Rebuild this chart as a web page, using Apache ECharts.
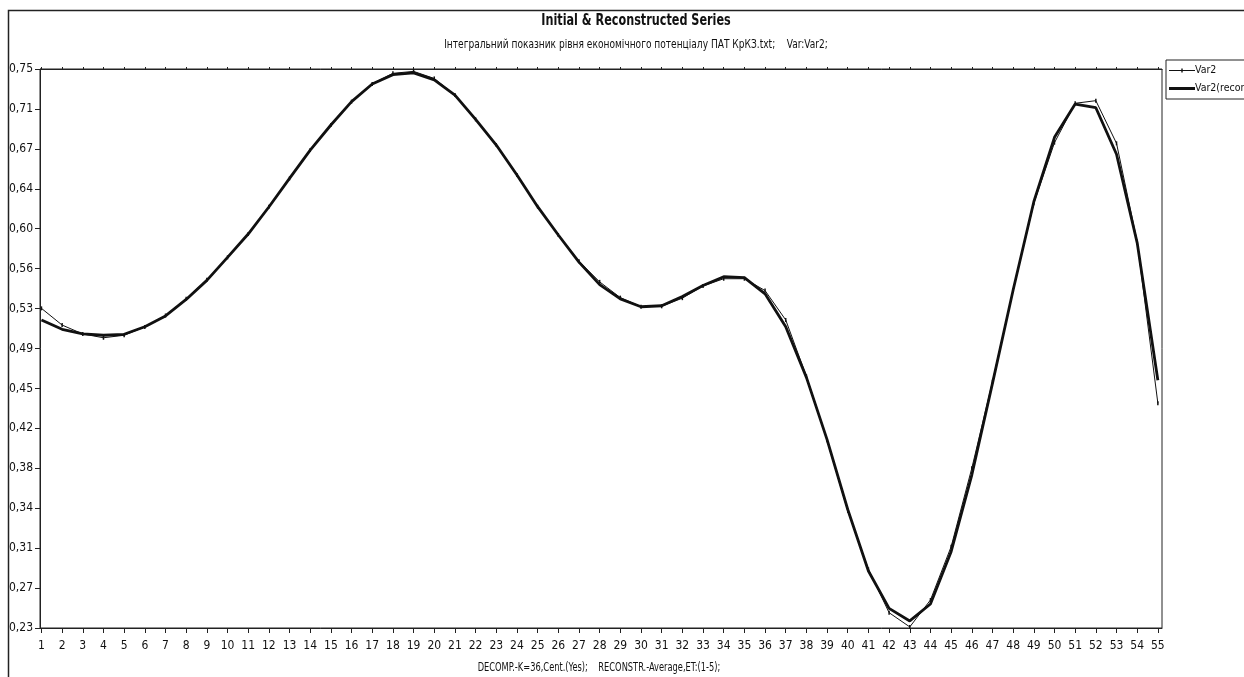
<!DOCTYPE html>
<html>
<head>
<meta charset="utf-8">
<script src="https://cdn.jsdelivr.net/npm/echarts@6/dist/echarts.min.js"></script>
<style>
  html, body { margin: 0; padding: 0; background: #fff; }
  #chart { width: 1244px; height: 677px; }
</style>
</head>
<body>
<div id="chart"></div>
<script>
// Observation index 1..55
const periods = Array.from({ length: 55 }, (_, i) => i + 1);

// Initial series Var2
const var2 = [
  0.5266, 0.5112, 0.5030, 0.4995, 0.5018, 0.5095, 0.5200, 0.5355, 0.5530, 0.5736,
  0.5951, 0.6203, 0.6464, 0.6725, 0.6956, 0.7171, 0.7334, 0.7432, 0.7450, 0.7385,
  0.7232, 0.7008, 0.6771, 0.6495, 0.6203, 0.5942, 0.5700, 0.5510, 0.5365, 0.5281,
  0.5285, 0.5360, 0.5472, 0.5539, 0.5539, 0.5430, 0.5159, 0.4640, 0.4050, 0.3400,
  0.2860, 0.2461, 0.2330, 0.2578, 0.3069, 0.3792, 0.4590, 0.5435, 0.6234, 0.6793,
  0.7156, 0.7180, 0.6787, 0.5880, 0.4391
];

// Reconstructed series (components 1-5)
const var2Recon = [
  0.5159, 0.5073, 0.5030, 0.5018, 0.5027, 0.5097, 0.5196, 0.5348, 0.5524, 0.5736,
  0.5951, 0.6200, 0.6464, 0.6725, 0.6956, 0.7171, 0.7334, 0.7420, 0.7436, 0.7372,
  0.7232, 0.7008, 0.6771, 0.6495, 0.6203, 0.5942, 0.5692, 0.5485, 0.5353, 0.5281,
  0.5290, 0.5376, 0.5476, 0.5558, 0.5550, 0.5400, 0.5097, 0.4630, 0.4056, 0.3412,
  0.2845, 0.2501, 0.2385, 0.2541, 0.3023, 0.3730, 0.4575, 0.5435, 0.6249, 0.6842,
  0.7149, 0.7115, 0.6686, 0.5870, 0.4604
];

// Value axis spans the data range, split into 14 equal steps
const yMin = 0.232;
const yMax = 0.7472;
const yTickLabels = ['0,23', '0,27', '0,31', '0,34', '0,38', '0,42', '0,45', '0,49',
                     '0,53', '0,56', '0,60', '0,64', '0,67', '0,71', '0,75'];
const yTickValues = yTickLabels.map((_, k) => yMin + k * (yMax - yMin) / (yTickLabels.length - 1));

const chartTitle = 'Initial & Reconstructed Series';
const chartSubtitle = 'Інтегральний показник рівня економічного потенціалу ПАТ КрКЗ.txt;    Var:Var2;';
const xAxisTitle = 'DECOMP.-K=36,Cent.(Yes);    RECONSTR.-Average,ET:(1-5);';

const FONT = "'Liberation Sans Narrow', 'Arial Narrow', 'DejaVu Sans Condensed', 'Liberation Sans', sans-serif";
const INK = '#111';

// legend glyphs: thin line with a tick mark, and a heavy line
const ICON_THIN = 'path://M0,3.5L26,3.5L26,4.5L0,4.5Z M12.3,2L13.7,2L13.7,6L12.3,6Z';
const ICON_THICK = 'path://M0,0L26,0L26,3L0,3Z';

const chart = echarts.init(document.getElementById('chart'), null, { renderer: 'canvas' });

chart.setOption({
  backgroundColor: '#fff',
  animation: false,
  textStyle: { fontFamily: FONT, color: INK },
  graphic: [
    {
      // outer frame of the chart area
      type: 'rect', silent: true, z: 0,
      shape: { x: 8.5, y: 10.5, width: 1300, height: 700 },
      style: { fill: 'none', stroke: '#222', lineWidth: 1.5 }
    },
    {
      type: 'text', silent: true, x: 636, y: 21, scaleX: 0.78,
      style: { text: chartTitle, fontFamily: FONT, fontSize: 16, fontWeight: 'bold', fill: INK, align: 'center', verticalAlign: 'middle' }
    },
    {
      type: 'text', silent: true, x: 636, y: 45, scaleX: 0.84,
      style: { text: chartSubtitle, fontFamily: FONT, fontSize: 12, fill: INK, align: 'center', verticalAlign: 'middle' }
    },
    {
      type: 'text', silent: true, x: 599, y: 668, scaleX: 0.8,
      style: { text: xAxisTitle, fontFamily: FONT, fontSize: 11.5, fill: INK, align: 'center', verticalAlign: 'middle' }
    }
  ],
  legend: {
    orient: 'vertical',
    left: 1166, top: 60,
    padding: [5, 30, 5, 3],
    itemGap: 7,
    itemWidth: 26, itemHeight: 8,
    symbolKeepAspect: true,
    borderColor: '#222', borderWidth: 1,
    backgroundColor: '#fff',
    textStyle: { fontFamily: FONT, fontSize: 10.5, color: INK, padding: [0, 0, 0, -5] },
    data: [
      { name: 'Var2', icon: ICON_THIN, itemStyle: { color: INK } },
      { name: 'Var2(recon.)', icon: ICON_THICK, itemStyle: { color: INK } }
    ]
  },
  grid: {
    left: 40, right: 82, top: 69, bottom: 49,
    show: true, borderColor: '#222', borderWidth: 1, backgroundColor: 'transparent'
  },
  xAxis: [
    {
      type: 'value', min: 0.93, max: 55.2, position: 'bottom',
      axisLine: { show: true, onZero: false, lineStyle: { color: '#222', width: 1 } },
      axisTick: { show: true, inside: false, length: 5, customValues: periods, lineStyle: { color: '#222' } },
      axisLabel: { customValues: periods, margin: 12, fontFamily: FONT, fontSize: 12, color: INK, formatter: v => String(Math.round(v)) },
      splitLine: { show: false }
    },
    {
      type: 'value', min: 0.93, max: 55.2, position: 'top',
      axisLine: { show: true, onZero: false, lineStyle: { color: '#222', width: 1 } },
      axisTick: { show: true, inside: false, length: 2, customValues: periods, lineStyle: { color: '#222' } },
      axisLabel: { show: false },
      splitLine: { show: false }
    }
  ],
  yAxis: {
    type: 'value', min: yMin, max: yMax,
    axisLine: { show: true, lineStyle: { color: '#222', width: 1 } },
    axisTick: { show: true, inside: false, length: 5, customValues: yTickValues, lineStyle: { color: '#222' } },
    axisLabel: {
      customValues: yTickValues, margin: 7, fontFamily: FONT, fontSize: 12, color: INK,
      formatter: v => {
        let best = 0;
        yTickValues.forEach((t, k) => { if (Math.abs(t - v) < Math.abs(yTickValues[best] - v)) best = k; });
        return yTickLabels[best];
      }
    },
    splitLine: { show: false }
  },
  series: [
    {
      name: 'Var2', type: 'line', xAxisIndex: 0,
      data: periods.map((p, i) => [p, var2[i]]),
      symbol: 'rect', symbolSize: [1.5, 4], showSymbol: true,
      itemStyle: { color: INK },
      lineStyle: { color: INK, width: 1 },
      z: 3
    },
    {
      name: 'Var2(recon.)', type: 'line', xAxisIndex: 0,
      data: periods.map((p, i) => [p, var2Recon[i]]),
      symbol: 'none',
      itemStyle: { color: INK },
      lineStyle: { color: INK, width: 2.8 },
      z: 2
    }
  ]
});
</script>
</body>
</html>
